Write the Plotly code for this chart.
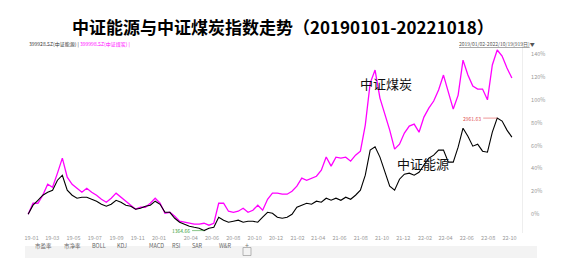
import pandas as pd
import plotly.graph_objects as go

# ---------------- data (percent change since 2019-01-02) -------------
dates = pd.date_range("2019-01-02", periods=100, freq="14D")

coal_pct = [0, 9.6, 9.6, 16.6, 26.2, 23.6, 35.9, 49.0, 32.4, 26.2,
            22.7, 19.2, 22.7, 19.2, 16.6, 13.1, 10.5, 14.0, 18.4, 14.9,
            11.4, 8.7, 4.4, 6.1, 6.1, 9.6, 14.0, 9.6, 0.9, 1.7,
            -1.7, -6.1, -7.0, -7.9, -8.7, -8.7, -7.9, -9.6, -7.9, 9.6,
            9.6, 2.6, 1.7, 2.6, 5.2, 1.7, 3.5, 7.9, 3.5, 13.1,
            18.4, 18.4, 17.5, 17.5, 20.1, 24.5, 31.5, 29.7, 31.5, 33.2,
            38.5, 50.0, 42.0, 49.9, 49.0, 49.9, 46.4, 51.6, 55.1, 77.9,
            114.6, 126.0, 101.5, 88.4, 73.5, 56.9, 61.2, 70.9, 77.0, 78.7,
            71.7, 84.9, 92.7, 98.9, 108.5, 121.6, 105.9, 91.9, 104.1, 134.7,
            121.6, 112.0, 109.4, 109.4, 100.0, 130.4, 143.5, 138.2, 127.7, 119.0]

energy_pct = [0, 7.9, 12.2, 16.6, 19.2, 21.0, 29.7, 34.1, 21.0, 16.6,
              14.0, 14.9, 14.9, 13.1, 11.4, 8.7, 7.0, 8.7, 12.2, 10.5,
              7.9, 7.0, 4.4, 5.2, 7.0, 7.9, 11.4, 8.7, 1.7, 1.7,
              -3.5, -7.0, -8.7, -10.5, -11.4, -12.2, -14.3, -12.2, -11.4, -2.6,
              -5.2, -7.0, -6.1, -5.2, -7.0, -6.1, -6.1, -7.0, -2.6, 1.7,
              0.9, -2.6, -3.5, -2.6, 0.0, 6.1, 7.9, 9.6, 8.7, 11.4,
              10.5, 14.0, 12.2, 14.0, 12.2, 14.9, 13.1, 16.6, 21.0, 34.1,
              56.0, 59.0, 49.9, 36.7, 24.5, 21.0, 30.6, 35.0, 35.9, 34.1,
              36.7, 42.9, 49.0, 51.6, 56.0, 56.0, 45.5, 45.5, 58.6, 75.2,
              68.2, 59.5, 61.2, 55.1, 54.2, 71.7, 84.0, 81.4, 73.5, 67.4]

x_tick_labels = ["19-01", "19-03", "19-05", "19-07", "19-09", "19-11", "20-01",
                 "20-04", "20-06", "20-08", "20-10", "20-12", "21-02", "21-04",
                 "21-06", "21-08", "21-10", "21-12", "22-02", "22-04", "22-06",
                 "22-08", "22-10"]
y_tick_values = [0, 20, 40, 60, 80, 100, 120, 140]

energy_max_label = "2961.63"
energy_min_label = "1364.66"
title_text = "中证能源与中证煤炭指数走势（20190101-20221018）"
toolbar_items = ["市盈率", "市净率", "BOLL", "KDJ", "MACD", "RSI", "SAR", "W&R"]

# ---------------- figure ----------------
W, H = 564, 260
FONT = "Noto Sans CJK SC"


def px(x):
    return x / W


def py(y):
    return 1 - y / H


fig = go.Figure()
fig.add_trace(go.Scatter(x=dates, y=coal_pct, mode="lines",
                         line=dict(color="#FF00FF", width=1.3), name="中证煤炭"))
fig.add_trace(go.Scatter(x=dates, y=energy_pct, mode="lines",
                         line=dict(color="#000000", width=1.1), name="中证能源"))

tickvals = [f"20{lab}-12" for lab in x_tick_labels]

fig.update_layout(
    width=W, height=H,
    margin=dict(l=0, r=0, t=0, b=0),
    paper_bgcolor="white", plot_bgcolor="white",
    showlegend=False,
    font=dict(family=FONT, color="#888"),
    xaxis=dict(type="date", range=["2018-12-24", "2022-11-17"],
               domain=[px(25), px(522)],
               tickvals=tickvals, ticktext=x_tick_labels,
               tickfont=dict(size=5.5, color="#999"),
               showgrid=False, zeroline=False, showline=False, ticks="",
               ticklabelstandoff=0),
    yaxis=dict(side="right", range=[-16.4, 150.5],
               domain=[py(233), py(42)],
               tickvals=y_tick_values, ticktext=[f"{v}%" for v in y_tick_values],
               tickfont=dict(size=5.5, color="#999"),
               showgrid=False, zeroline=False, showline=True,
               linecolor="#eeeeee", linewidth=1, ticks="",
               ticklabelstandoff=7),
)

ann = []
# title
ann.append(dict(text=f"<b>{title_text}</b>", x=px(283), y=py(12), xref="paper", yref="paper",
                showarrow=False, font=dict(size=17, family=FONT, color="#000")))
# header left
ann.append(dict(text="399928.SZ(中证能源) | <span style='color:#FF00FF'>399998.SZ(中证煤炭) |</span>",
                x=px(27), y=py(38), xref="paper", yref="paper", xanchor="left",
                showarrow=False, font=dict(size=5, family=FONT, color="#333")))
# header right
ann.append(dict(text="<u>2019/01/02-2022/10/19(919日)</u>▼",
                x=px(537), y=py(38), xref="paper", yref="paper", xanchor="right",
                showarrow=False, font=dict(size=5, family=FONT, color="#555")))
# series labels
ann.append(dict(text="中证煤炭", x=px(414), y=py(72), xref="paper", yref="paper",
                showarrow=False, font=dict(size=13, family=FONT, color="#111")))
ann.append(dict(text="中证能源", x=px(451), y=py(175), xref="paper", yref="paper",
                showarrow=False, font=dict(size=13, family=FONT, color="#111")))
# max / min markers on the energy line
imax = max(range(len(energy_pct)), key=lambda i: energy_pct[i])
imin = min(range(len(energy_pct)), key=lambda i: energy_pct[i])
ann.append(dict(text=energy_max_label, x=dates[imax], y=energy_pct[imax], xref="x", yref="y",
                showarrow=True, arrowhead=0, arrowwidth=0.6, arrowcolor="#e05050",
                ax=-14, ay=0, xanchor="right", font=dict(size=5, family=FONT, color="#e05050")))
ann.append(dict(text=energy_min_label, x=dates[imin], y=energy_pct[imin], xref="x", yref="y",
                showarrow=True, arrowhead=0, arrowwidth=0.6, arrowcolor="#3aa03a",
                ax=-12, ay=0, xanchor="right", font=dict(size=5, family=FONT, color="#3aa03a")))

# toolbar
tool_x = [33, 62, 90, 115, 147, 170, 197, 225]
for label, xx in zip(toolbar_items, tool_x):
    ann.append(dict(text=label, x=px(xx), y=py(252), xref="paper", yref="paper",
                    showarrow=False, font=dict(size=5.5, family=FONT, color="#666")))
ann.append(dict(text="+", x=px(247), y=py(251.5), xref="paper", yref="paper",
                showarrow=False, font=dict(size=7, family=FONT, color="#777")))

shapes = [
    dict(type="rect", xref="paper", yref="paper", x0=px(25), x1=px(537),
         y0=py(258), y1=py(246), fillcolor="#f3f3f3", line=dict(width=0), layer="below"),
    dict(type="rect", xref="paper", yref="paper", x0=px(243), x1=px(251),
         y0=py(255.5), y1=py(247.5), fillcolor="rgba(0,0,0,0)",
         line=dict(width=0.7, color="#999")),
]

fig.update_layout(annotations=ann, shapes=shapes)
fig.write_html("out.html")
